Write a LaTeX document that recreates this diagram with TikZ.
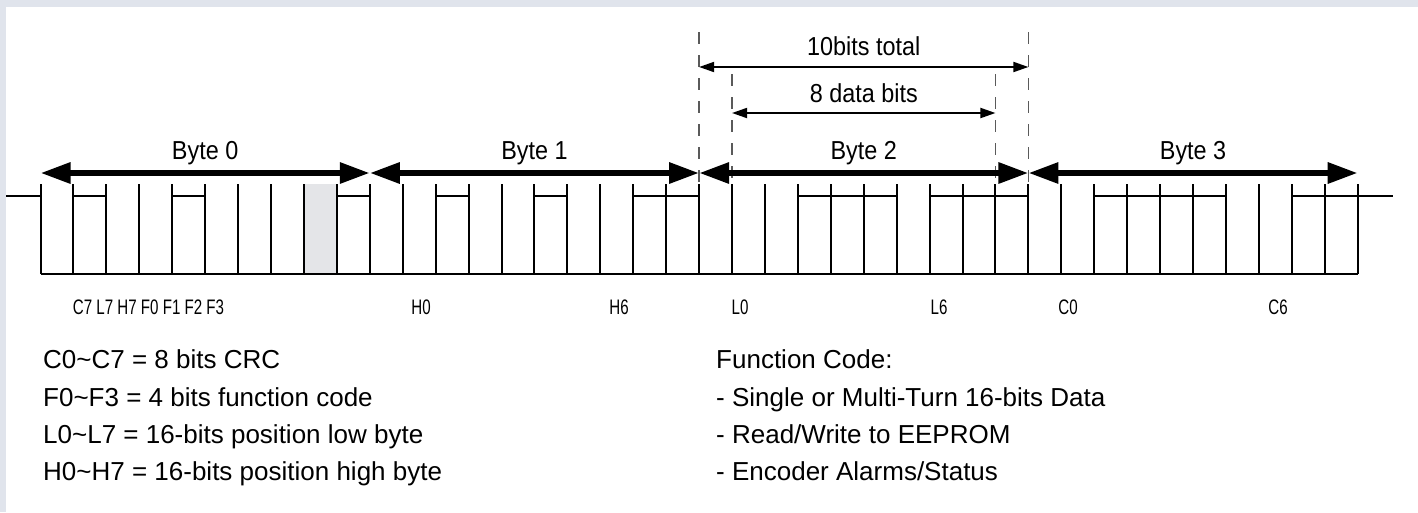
\documentclass[tikz,border=0pt]{standalone}
\usepackage{fontspec}
\setmainfont{Liberation Sans}
\newfontfamily\condfont[FakeStretch=0.72]{Liberation Sans}
\newfontfamily\semicondfont[FakeStretch=0.9]{Liberation Sans}
\usetikzlibrary{arrows.meta}
\definecolor{framecol}{RGB}{224,228,236}
\definecolor{bitgrey}{RGB}{228,229,232}
\definecolor{guidecol}{RGB}{90,90,90}
\begin{document}
\begin{tikzpicture}[x=1pt,y=-1pt,
  sig/.style={line width=2pt},
  bytearrow/.style={line width=6pt,{Triangle[length=30pt,width=20pt]}-{Triangle[length=30pt,width=20pt]}},
  dimarrow/.style={line width=1.8pt,{Triangle[length=15pt,width=10pt]}-{Triangle[length=15pt,width=10pt]}},
  guide/.style={line width=1.4pt,guidecol,dash pattern=on 12pt off 11pt},
  bitlbl/.style={font=\condfont\fontsize{21}{24}\selectfont,anchor=base,inner sep=0pt},
  bytelbl/.style={font=\semicondfont\fontsize{26}{30}\selectfont,anchor=base,inner sep=0pt},
  legend/.style={font=\fontsize{26}{30}\selectfont,anchor=base west,inner sep=0pt}]
% background
\fill[framecol] (0,0) rectangle (1418,512);
\fill[white] (6,7) rectangle (1418,512);
\useasboundingbox (0,0) rectangle (1418,512);
\def\xo{40.5}\def\bw{32.93}
% grey bit
\fill[bitgrey] ({\xo+\bw*8},184) rectangle ({\xo+\bw*9},274);
% guides
\draw[guide] ({\xo+\bw*20},32) -- ({\xo+\bw*20},274);
\draw[guide] ({\xo+\bw*30},32) -- ({\xo+\bw*30},274);
\draw[guide] ({\xo+\bw*21},74) -- ({\xo+\bw*21},274);
\draw[guide] ({\xo+\bw*29},74) -- ({\xo+\bw*29},274);
% signal
\foreach \i in {0,...,40} \draw[sig] ({\xo+\bw*\i},184) -- ++(0,90);
\draw[sig] (\xo,274) -- ({\xo+\bw*40},274);
\draw[sig] (6,196) -- (\xo,196);
\draw[sig] ({\xo+\bw*40},196) -- (1393,196);
\foreach \i in {1,4,9,12,15,18,19,23,24,25,27,28,29,32,33,34,35,38,39}
  \draw[sig] ({\xo+\bw*\i},196) -- ++(\bw,0);
% byte arrows
\foreach \k in {0,1,2,3,4} \coordinate (B\k) at ({\xo+\bw*10*\k},173);
\draw[bytearrow] (B0) -- (B1);
\draw[bytearrow] (B1) -- (B2);
\draw[bytearrow] (B2) -- (B3);
\draw[bytearrow] (B3) -- (B4);
\node[bytelbl] (by0) at ({\xo+\bw*5},159) {Byte 0};
\node[bytelbl] (by1) at ({\xo+\bw*15},159) {Byte 1};
\node[bytelbl] (by2) at ({\xo+\bw*25},159) {Byte 2};
\node[bytelbl] (by3) at ({\xo+\bw*35},159) {Byte 3};
% dimension arrows
\coordinate (T1) at ({\xo+\bw*20},67);
\coordinate (T2) at ({\xo+\bw*30},67);
\coordinate (D1) at ({\xo+\bw*21},113);
\coordinate (D2) at ({\xo+\bw*29},113);
\draw[dimarrow] (T1) -- (T2);
\draw[dimarrow] (D1) -- (D2);
\node[bytelbl] (tot) at ({\xo+\bw*25},55) {10bits total};
\node[bytelbl] (dat) at ({\xo+\bw*25},102) {8 data bits};
% bit labels
\node[bitlbl] (l0) at (148.5,314) {C7 L7 H7 F0 F1 F2 F3};
\node[bitlbl] (l1) at (421,314) {H0};
\node[bitlbl] (l2) at (619,314) {H6};
\node[bitlbl] (l3) at (740,314) {L0};
\node[bitlbl] (l4) at (939,314) {L6};
\node[bitlbl] (l5) at (1068,314) {C0};
\node[bitlbl] (l6) at (1278,314) {C6};
% legend
\node[legend] (g1) at (43,368) {C0\textasciitilde C7 = 8 bits CRC};
\node[legend] (g2) at (43,406) {F0\textasciitilde F3 = 4 bits function code};
\node[legend] (g3) at (43,443) {L0\textasciitilde L7 = 16-bits position low byte};
\node[legend] (g4) at (43,480) {H0\textasciitilde H7 = 16-bits position high byte};
\node[legend] (f1) at (716,368) {Function Code:};
\node[legend] (f2) at (716,406) {- Single or Multi-Turn 16-bits Data};
\node[legend] (f3) at (716,443) {- Read/Write to EEPROM};
\node[legend] (f4) at (716,480) {- Encoder Alarms/Status};
\end{tikzpicture}
\end{document}
